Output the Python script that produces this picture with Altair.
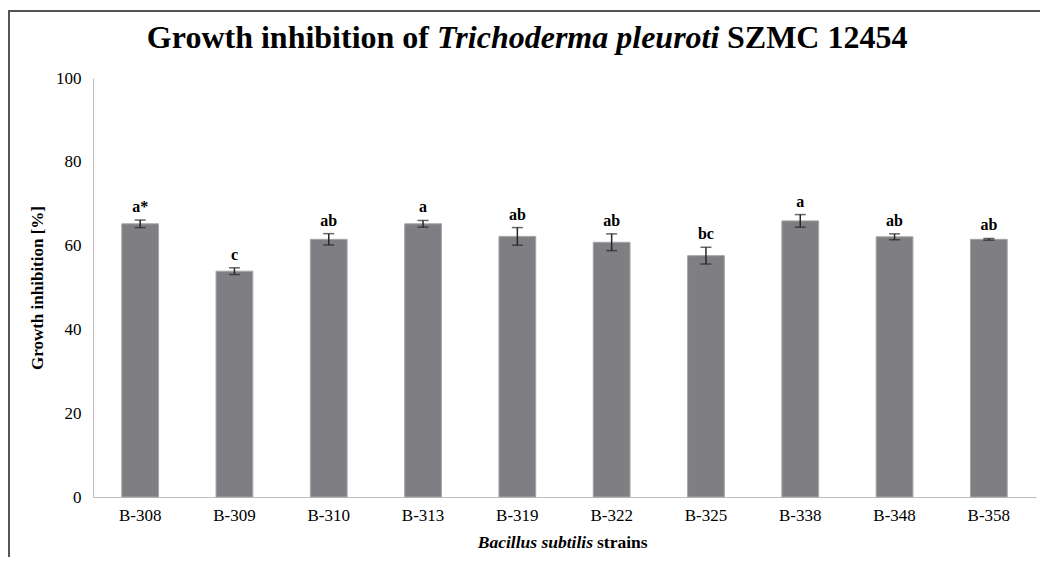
import altair as alt
import pandas as pd

strains = ["B-308", "B-309", "B-310", "B-313", "B-319", "B-322", "B-325", "B-338", "B-348", "B-358"]
means = [65.2, 53.9, 61.5, 65.2, 62.2, 60.8, 57.6, 65.9, 62.1, 61.5]
errors = [0.9, 0.8, 1.35, 0.8, 2.1, 2.0, 2.0, 1.5, 0.7, 0.2]
letters = ["a*", "c", "ab", "a", "ab", "ab", "bc", "a", "ab", "ab"]

df = pd.DataFrame({
    "strain": strains,
    "mean": means,
    "lo": [m - e for m, e in zip(means, errors)],
    "hi": [m + e for m, e in zip(means, errors)],
    "letter": letters,
})

SERIF = "Liberation Serif"
W, H = 943, 419

x_enc = alt.X("strain:N", sort=strains,
              scale=alt.Scale(paddingInner=0.61, paddingOuter=0.305),
              axis=alt.Axis(title=None, labelAngle=0, ticks=False, domainColor="#bfbfbf",
                            labelFont=SERIF, labelFontSize=17, labelColor="#000000",
                            labelPadding=10))
y_scale = alt.Scale(domain=[0, 100])

base = alt.Chart(df)

bars = base.mark_bar(color="#7f7f83", stroke="#a6a6a6", strokeWidth=1).encode(
    x=x_enc,
    y=alt.Y("mean:Q", scale=y_scale,
            axis=alt.Axis(title="Growth inhibition [%]", values=[0, 20, 40, 60, 80, 100],
                          ticks=False, grid=False, domainColor="#bfbfbf",
                          labelFont=SERIF, labelFontSize=17, labelColor="#000000",
                          labelPadding=12, titleFont=SERIF, titleFontSize=17,
                          titleFontWeight="bold", titleColor="#000000", titlePadding=9)),
)

err_rule = base.mark_rule(color="#262626", strokeWidth=1.5).encode(
    x=alt.X("strain:N", sort=strains), y=alt.Y("lo:Q", scale=y_scale), y2="hi:Q")
cap_lo = base.mark_tick(color="#262626", thickness=1.5, size=11, orient="horizontal").encode(
    x=alt.X("strain:N", sort=strains), y=alt.Y("lo:Q", scale=y_scale))
cap_hi = base.mark_tick(color="#262626", thickness=1.5, size=11, orient="horizontal").encode(
    x=alt.X("strain:N", sort=strains), y=alt.Y("hi:Q", scale=y_scale))

labels = base.mark_text(font=SERIF, fontSize=16, fontWeight="bold", baseline="bottom",
                        dy=-5, color="#000000").encode(
    x=alt.X("strain:N", sort=strains), y=alt.Y("hi:Q", scale=y_scale), text="letter:N")

title_df = pd.DataFrame({"a": ["Growth inhibition of"], "b": ["Trichoderma pleuroti"], "c": ["SZMC 12454"]})
tbase = alt.Chart(title_df)
TS = 32
t1 = tbase.mark_text(font=SERIF, fontSize=TS, fontWeight="bold", align="right",
                     baseline="alphabetic", color="#000000").encode(
    x=alt.value(336), y=alt.value(-30), text="a:N")
t2 = tbase.mark_text(font=SERIF, fontSize=TS, fontWeight="bold", fontStyle="italic",
                     align="left", baseline="alphabetic", color="#000000").encode(
    x=alt.value(344), y=alt.value(-30), text="b:N")
t3 = tbase.mark_text(font=SERIF, fontSize=TS, fontWeight="bold", align="left",
                     baseline="alphabetic", color="#000000").encode(
    x=alt.value(634), y=alt.value(-30), text="c:N")

xt_df = pd.DataFrame({"a": ["Bacillus subtilis"], "b": ["strains"]})
xtb = alt.Chart(xt_df)
xt1 = xtb.mark_text(font=SERIF, fontSize=17.5, fontWeight="bold", fontStyle="italic",
                    align="right", baseline="middle", color="#000000").encode(
    x=alt.value(500), y=alt.value(465), text="a:N")
xt2 = xtb.mark_text(font=SERIF, fontSize=17.5, fontWeight="bold", align="left",
                    baseline="middle", color="#000000").encode(
    x=alt.value(504), y=alt.value(465), text="b:N")

frame_df = pd.DataFrame({"f": [1]})
frame_left = alt.Chart(frame_df).mark_rule(color="#555555", strokeWidth=2, clip=False).encode(
    x=alt.value(-84), y=alt.value(-67), y2=alt.value(490))
frame_top = alt.Chart(frame_df).mark_rule(color="#555555", strokeWidth=2, clip=False).encode(
    x=alt.value(-85), x2=alt.value(960), y=alt.value(-67))

chart = alt.layer(frame_left, frame_top, bars, err_rule, cap_lo, cap_hi, labels,
                  t1, t2, t3, xt1, xt2).properties(
    width=W, height=H,
    background="#ffffff",
    autosize=alt.AutoSizeParams(type="none"),
    padding={"left": 85, "top": 70, "right": 4, "bottom": 60},
).configure_view(stroke=None)

chart.save("out.html", embed_options={"renderer": "svg", "actions": False})
